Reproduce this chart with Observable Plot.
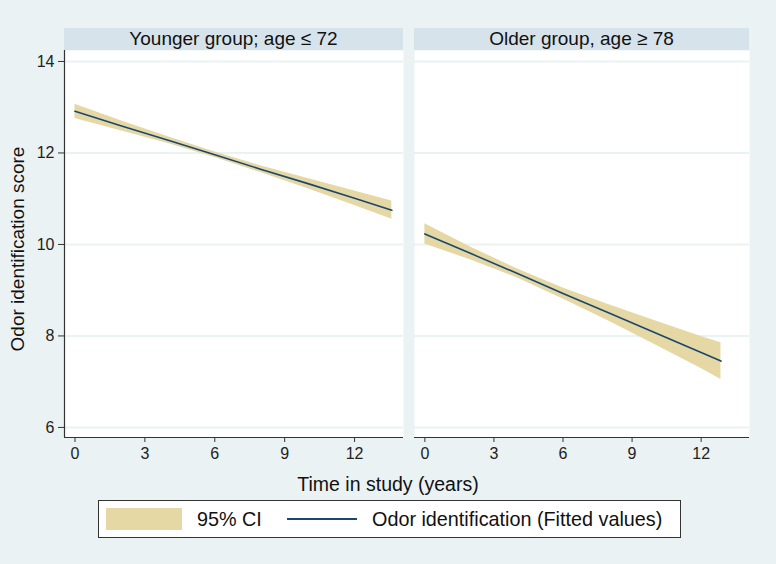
<!DOCTYPE html>
<html>
<head>
<meta charset="utf-8">
<script src="https://cdn.jsdelivr.net/npm/d3@7"></script>
<script src="https://cdn.jsdelivr.net/npm/@observablehq/plot@0.6"></script>
<style>
  html, body { margin: 0; padding: 0; }
  body { width: 776px; height: 564px; background: #eaf2f3; position: relative; overflow: hidden;
         font-family: "Liberation Sans", Arial, sans-serif; color: #111; }
  .strip { position: absolute; height: 22px; background: #d7e3ea; font-size: 19px; line-height: 22px; text-align: center; color: #111; }
  .ylab { position: absolute; font-size: 19px; white-space: nowrap; transform: translate(-50%, -50%) rotate(-90deg); }
  .xlab { position: absolute; font-size: 19.5px; white-space: nowrap; transform: translate(-50%, -50%); }
  .legend { position: absolute; left: 98px; top: 500px; width: 581px; height: 36px; background: #fff; border: 1px solid #333; }
  .legend .sw { position: absolute; left: 7px; top: 7px; width: 76px; height: 22px; background: #e5d8a5; }
  .legend .t { position: absolute; top: 7px; font-size: 19.8px; line-height: 22px; white-space: nowrap; }
  .legend .ln { position: absolute; left: 188px; top: 17px; width: 70px; height: 0; border-top: 2px solid #1a476f; }
</style>
</head>
<body>
<div id="root"></div>
<script>
// ---- data ----
const panelTitles = ["Younger group; age \u2264 72", "Older group, age \u2265 78"];
const xTicks = [0, 3, 6, 9, 12];
const yTicks = [6, 8, 10, 12, 14];
const xDomain = [-0.45, 14.1];
const yDomain = [5.78, 14.24];

const youngTime = [0, 2, 4, 6, 8, 10, 12, 13.6];
const youngFit  = [12.91, 12.59, 12.28, 11.96, 11.64, 11.33, 11.01, 10.75];
const youngLo   = [12.755, 12.48, 12.205, 11.90, 11.565, 11.22, 10.85, 10.55];
const youngHi   = [13.065, 12.70, 12.355, 12.02, 11.715, 11.44, 11.17, 10.95];

const oldTime = [0, 2, 4, 6, 8, 10, 12, 12.86];
const oldFit  = [10.23, 9.80, 9.37, 8.93, 8.50, 8.07, 7.64, 7.45];
const oldLo   = [10.01, 9.66, 9.27, 8.81, 8.32, 7.81, 7.29, 7.05];
const oldHi   = [10.45, 9.94, 9.47, 9.05, 8.68, 8.33, 7.99, 7.85];

const legendLabels = ["95% CI", "Odor identification (Fitted values)"];
const xLabel = "Time in study (years)";
const yLabel = "Odor identification score";

const toRows = (t, f, lo, hi) => t.map((v, i) => ({t: v, fit: f[i], lo: lo[i], hi: hi[i]}));
const young = toRows(youngTime, youngFit, youngLo, youngHi);
const old = toRows(oldTime, oldFit, oldLo, oldHi);

const BAND = "#e5d8a5", LINE = "#1a476f", GRID = "#eaf2f3", AXIS = "#333";
const FONT = "Liberation Sans, Arial, sans-serif";

function panel(data, {width, marginLeft, marginRight, showY}) {
  const marks = [
    Plot.frame({fill: "white", stroke: null}),
    Plot.gridY(yTicks, {stroke: GRID, strokeOpacity: 1, strokeWidth: 2}),
    Plot.areaY(data, {x: "t", y1: "lo", y2: "hi", fill: BAND, fillOpacity: 1}),
    Plot.lineY(data, {x: "t", y: "fit", stroke: LINE, strokeWidth: 1.6}),
    Plot.ruleY([yDomain[0]], {stroke: AXIS, strokeWidth: 1.2}),
    Plot.axisX(xTicks, {tickSize: 5, tickPadding: 5, fontSize: 16, label: null, stroke: AXIS, fill: "#222"})
  ];
  if (showY) {
    marks.push(Plot.ruleX([xDomain[0]], {stroke: AXIS, strokeWidth: 1.2}));
    marks.push(Plot.axisY(yTicks, {tickSize: 6, tickPadding: 4, fontSize: 16, label: null, stroke: AXIS, fill: "#222"}));
  }
  return Plot.plot({
    width, height: 417,
    marginLeft, marginRight, marginTop: 0, marginBottom: 30,
    x: {domain: xDomain, axis: null},
    y: {domain: yDomain, axis: null},
    style: {background: "transparent", fontFamily: FONT, overflow: "visible"},
    marks
  });
}

const root = document.getElementById("root");

const left = panel(young, {width: 403, marginLeft: 64, marginRight: 0, showY: true});
left.style.position = "absolute"; left.style.left = "0px"; left.style.top = "50px";
root.appendChild(left);

const right = panel(old, {width: 373, marginLeft: 11, marginRight: 27, showY: false});
right.style.position = "absolute"; right.style.left = "403px"; right.style.top = "50px";
root.appendChild(right);

// facet strips
[[64, 339], [414, 335]].forEach(([x, w], i) => {
  const d = document.createElement("div");
  d.className = "strip";
  d.style.left = x + "px"; d.style.top = "28px"; d.style.width = w + "px";
  d.textContent = panelTitles[i];
  root.appendChild(d);
});

// axis titles
const yl = document.createElement("div");
yl.className = "ylab"; yl.style.left = "18px"; yl.style.top = "249px"; yl.textContent = yLabel;
root.appendChild(yl);
const xl = document.createElement("div");
xl.className = "xlab"; xl.style.left = "388px"; xl.style.top = "484px"; xl.textContent = xLabel;
root.appendChild(xl);

// legend
const lg = document.createElement("div");
lg.className = "legend";
lg.innerHTML = `<div class="sw"></div><div class="t" style="left:98px">${legendLabels[0]}</div>` +
  `<div class="ln"></div><div class="t" style="left:273px">${legendLabels[1]}</div>`;
root.appendChild(lg);
</script>
</body>
</html>
